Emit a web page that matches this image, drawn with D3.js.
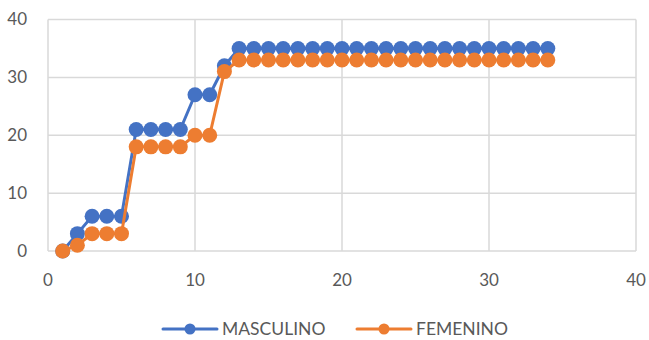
<!DOCTYPE html>
<html>
<head>
<meta charset="utf-8">
<script src="https://d3js.org/d3.v7.min.js"></script>
<style>
  body { margin: 0; background: #fff; }
  text { font-family: Lato, "Open Sans", sans-serif; fill: #595959; }
</style>
</head>
<body>
<svg width="649" height="340"></svg>
<script>
// data
var dias = d3.range(1, 35);
var masculino = [0, 3, 6, 6, 6, 21, 21, 21, 21, 27, 27, 32, 35, 35, 35, 35, 35, 35, 35, 35, 35, 35, 35, 35, 35, 35, 35, 35, 35, 35, 35, 35, 35, 35];
var femenino = [0, 1, 3, 3, 3, 18, 18, 18, 18, 20, 20, 31, 33, 33, 33, 33, 33, 33, 33, 33, 33, 33, 33, 33, 33, 33, 33, 33, 33, 33, 33, 33, 33, 33];
var xTicks = [0, 10, 20, 30, 40];
var yTicks = [0, 10, 20, 30, 40];

var svg = d3.select("svg");

var x = d3.scaleLinear().domain([0, 40]).range([48, 636]);
var y = d3.scaleLinear().domain([0, 40]).range([251, 19.5]);

// grid
svg.append("g").selectAll("line").data(yTicks).enter().append("line")
    .attr("x1", x(0)).attr("x2", x(40))
    .attr("y1", function(d) { return y(d); })
    .attr("y2", function(d) { return y(d); })
    .attr("stroke", "#d9d9d9").attr("stroke-width", 1.5);
svg.append("g").selectAll("line").data(xTicks).enter().append("line")
    .attr("y1", y(0)).attr("y2", y(40))
    .attr("x1", function(d) { return x(d); })
    .attr("x2", function(d) { return x(d); })
    .attr("stroke", "#d9d9d9").attr("stroke-width", 1.5);

// tick labels
svg.append("g").selectAll("text").data(yTicks).enter().append("text")
    .attr("x", 27).attr("y", function(d) { return y(d); })
    .attr("dy", "0.35em").attr("text-anchor", "end")
    .style("font-size", "17px")
    .text(function(d) { return d; });
svg.append("g").selectAll("text").data(xTicks).enter().append("text")
    .attr("x", function(d) { return x(d); }).attr("y", 280)
    .attr("dy", "0.35em").attr("text-anchor", "middle")
    .style("font-size", "17px")
    .text(function(d) { return d; });

var series = [
  { name: "MASCULINO", values: masculino, color: "#4472C4" },
  { name: "FEMENINO", values: femenino, color: "#ED7D31" }
];

var line = d3.line()
    .x(function(d, i) { return x(dias[i]); })
    .y(function(d) { return y(d); });

series.forEach(function(s) {
  svg.append("path")
      .datum(s.values)
      .attr("d", line)
      .attr("fill", "none")
      .attr("stroke", s.color)
      .attr("stroke-width", 3)
      .attr("stroke-linejoin", "round");
  svg.append("g").selectAll("circle").data(s.values).enter().append("circle")
      .attr("cx", function(d, i) { return x(dias[i]); })
      .attr("cy", function(d) { return y(d); })
      .attr("r", 7.5)
      .attr("fill", s.color);
});

// legend
var legendX = [163, 357];
series.forEach(function(s, i) {
  var g = svg.append("g").attr("transform", "translate(" + legendX[i] + ",329)");
  g.append("line").attr("x1", 0).attr("x2", 54).attr("y1", 0).attr("y2", 0)
      .attr("stroke", s.color).attr("stroke-width", 3).attr("stroke-linecap", "round");
  g.append("circle").attr("cx", 27).attr("cy", 0).attr("r", 5.5).attr("fill", s.color);
  g.append("text").attr("x", 59).attr("y", 0).attr("dy", "0.35em")
      .style("font-size", "17.5px").text(s.name);
});
</script>
</body>
</html>
